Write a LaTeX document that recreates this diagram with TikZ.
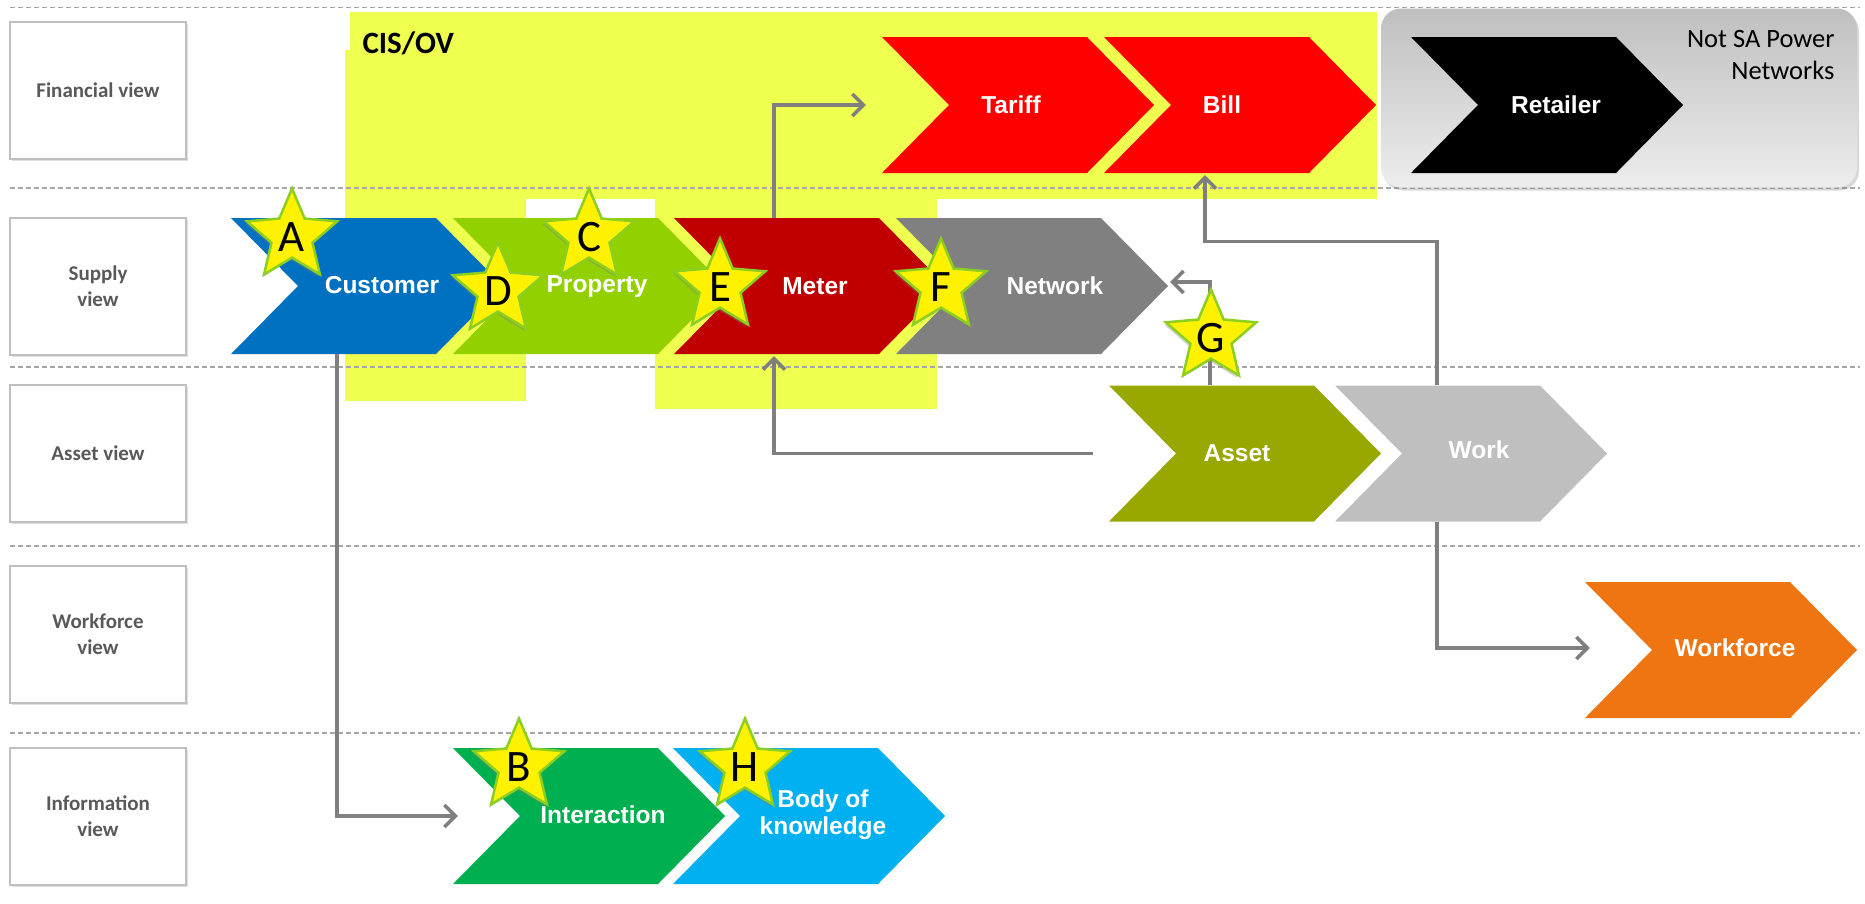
\documentclass[tikz,border=0pt]{standalone}
\usepackage{fontspec}
\setmainfont{Carlito}
\newfontfamily\chevfont{Liberation Sans}
\usetikzlibrary{arrows.meta,shapes.geometric,shadows}

\definecolor{cisyellow}{HTML}{EFFF4F}
\definecolor{dashgray}{HTML}{A6A6A6}
\definecolor{boxgray}{HTML}{BFBFBF}
\definecolor{labelgray}{HTML}{595959}
\definecolor{linkgray}{HTML}{7F7F7F}
\definecolor{starrim}{HTML}{8CCF1E}
\definecolor{cCustomer}{HTML}{0070C0}
\definecolor{cProperty}{HTML}{92D000}
\definecolor{cMeter}{HTML}{C00000}
\definecolor{cNetwork}{HTML}{808080}
\definecolor{cBill}{HTML}{FF0000}
\definecolor{cAsset}{HTML}{99A800}
\definecolor{cWork}{HTML}{BFBFBF}
\definecolor{cWorkforce}{HTML}{EE7512}
\definecolor{cInteraction}{HTML}{00B050}
\definecolor{cKnowledge}{HTML}{00B0F0}

\tikzset{
  chev/.style={minimum width=272pt, minimum height=136pt, inner sep=0pt,
    path picture={\fill[#1]
      (path picture bounding box.north west)
      -- ([xshift=-67pt]path picture bounding box.north east)
      -- (path picture bounding box.east)
      -- ([xshift=-67pt]path picture bounding box.south east)
      -- (path picture bounding box.south west)
      -- ([xshift=67pt]path picture bounding box.west)
      -- cycle;}},
  chevtext/.style={font=\chevfont\bfseries\fontsize{24.5}{27}\selectfont,
    text=white, inner sep=0pt, align=center},
  rowbox/.style={draw=boxgray, line width=2.5pt, fill=white,
    minimum width=176pt, minimum height=137pt, align=center, text=labelgray,
    font=\bfseries\fontsize{21}{26}\selectfont,
    drop shadow={shadow xshift=1.5pt, shadow yshift=-1.5pt, opacity=0.25}},
  divider/.style={draw=dashgray, line width=1.8pt, dash pattern=on 5pt off 3pt},
  link/.style={draw=linkgray, line width=3.5pt,
    -{Straight Barb[length=11pt,width=22pt]}},
  starshape/.style={star, star points=5, star point ratio=2.2,
    minimum size=95pt, inner sep=0pt, fill=yellow, draw=starrim,
    line width=2.5pt,
    drop shadow={shadow xshift=-1.5pt, shadow yshift=-2.5pt, opacity=0.35}},
  starletter/.style={font=\fontsize{45}{45}\selectfont, inner sep=0pt}
}

\begin{document}
\begin{tikzpicture}[x=1pt, y=-1pt]
\useasboundingbox (0,0) rectangle (1865,903);
\fill[white] (0,0) rectangle (1865,903);

% CIS/OV highlight areas
\fill[cisyellow] (350,12) rectangle (1377,199);
\fill[cisyellow] (345,50) rectangle (526,401);
\fill[cisyellow] (655,199) rectangle (937,409);

% lane dividers
\foreach \yy in {7.5,188,367,546,733}
  \draw[divider] (10,\yy) -- (1860,\yy);

% area outside the organisation
\node[draw=none, rounded corners=20pt, minimum width=476pt, minimum height=179pt,
  top color=boxgray, bottom color=white!93!black,
  drop shadow={shadow xshift=2pt, shadow yshift=-3pt, opacity=0.3}]
  (outside) at (1619,98) {};
\node[anchor=base east, font=\fontsize{26.5}{32}\selectfont] (notsaA) at (1838,47) {Not SA Power};
\node[anchor=base east, font=\fontsize{26.5}{32}\selectfont] (notsaB) at (1838,79) {Networks};

\node[anchor=base west, font=\bfseries\fontsize{31}{31}\selectfont] (cis) at (359,53) {CIS/OV};

% lane labels
\node[rowbox] (rFinancial) at (98,90.5) {Financial view};
\node[rowbox] (rSupply) at (98,286.5) {Supply\\view};
\node[rowbox] (rAsset) at (98,453.5) {Asset view};
\node[rowbox] (rWorkforce) at (98,634.5) {Workforce\\view};
\node[rowbox] (rInformation) at (98,816.5) {Information\\view};

% chevrons
\node[chev=cCustomer] (customer) at (367,286) {};
\node[chev=cProperty] (property) at (589,286) {};
\node[chev=cMeter] (meter) at (810,286) {};
\node[chev=cNetwork] (network) at (1032,286) {};
\node[chev=cBill] (tariff) at (1018,105) {};
\node[chev=cBill] (bill) at (1240,105) {};
\node[chev=black] (retailer) at (1547,105) {};
\node[chev=cAsset] (asset) at (1245,453.5) {};
\node[chev=cWork] (work) at (1471,453.5) {};
\node[chev=cWorkforce] (workforce) at (1721,650) {};
\node[chev=cInteraction] (interaction) at (589,816) {};
\node[chev=cKnowledge] (knowledge) at (809,816) {};

% connectors
\draw[link] ([xshift=-36pt]meter.north) |- ([xshift=-16pt]tariff.west);
\draw[link] ([xshift=-16pt]asset.west) -| ([xshift=-36pt,yshift=-2pt]meter.south);
\draw[link] ([xshift=-35pt]asset.north) |- ([xshift=2pt,yshift=4pt]network.east);
\draw[link] ([xshift=-34pt]work.north) -- ++(0,-144) -| ([xshift=-35pt,yshift=-2pt]bill.south);
\draw[link] ([xshift=-34pt]work.south) |- ([xshift=5pt,yshift=2pt]workforce.west);
\draw[link] ([xshift=-30pt]customer.south) |- ([xshift=5pt]interaction.west);

% chevron captions
\node[chevtext] (tCustomer) at (382,285) {Customer};
\node[chevtext] (tProperty) at (597,287) {Property};
\node[chevtext] (tMeter) at (815,286) {Meter};
\node[chevtext] (tNetwork) at (1055,286) {Network};
\node[chevtext] (tTariff) at (1011,105) {Tariff};
\node[chevtext] (tBill) at (1222,105) {Bill};
\node[chevtext] (tRetailer) at (1556,105) {Retailer};
\node[chevtext] (tAsset) at (1237,453) {Asset};
\node[chevtext] (tWork) at (1479,450) {Work};
\node[chevtext] (tWorkforce) at (1735,648) {Workforce};
\node[chevtext] (tInteraction) at (603,815) {Interaction};
\node[chevtext] (tKnowledge) at (823,815) {Body of\\knowledge};

% markers
\foreach \nm/\px/\py in {A/292/236, C/589/236, D/498/290, E/720/286, F/941/286,
                         G/1211/337, B/519/766, H/745/766} {
  \node[starshape] (star\nm) at (\px,\py) {};
  \node[starletter] (let\nm) at ([yshift=-1.5pt]star\nm.center) {\nm};
}
\end{tikzpicture}
\end{document}
